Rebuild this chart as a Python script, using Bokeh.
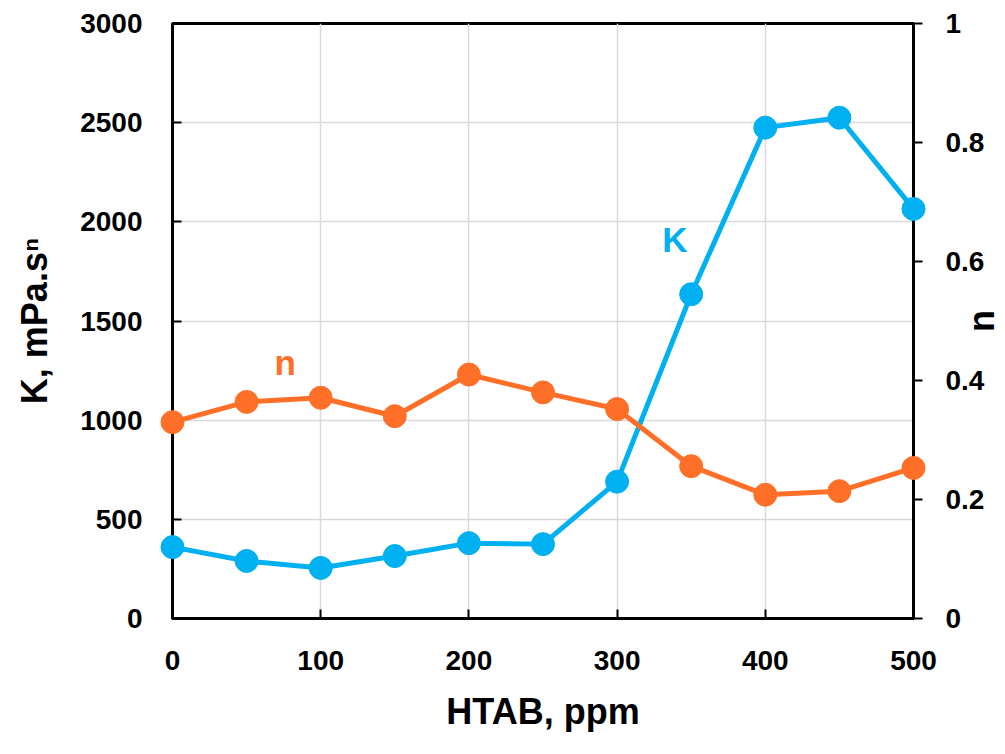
import math
from bokeh.plotting import figure
from bokeh.models import Range1d, LinearAxis, FixedTicker, Label, ColumnDataSource
from bokeh.core.properties import value
from bokeh.embed import file_html
from bokeh.resources import INLINE

htab = [0, 50, 100, 150, 200, 250, 300, 350, 400, 450, 500]
k_values = [360, 290, 255, 315, 380, 375, 690, 1635, 2475, 2525, 2065]
n_values = [0.330, 0.364, 0.371, 0.340, 0.410, 0.380, 0.352, 0.256, 0.208, 0.214, 0.253]
x_ticks = [0, 100, 200, 300, 400, 500]
k_ticks = [0, 500, 1000, 1500, 2000, 2500, 3000]
n_ticks = [0, 0.2, 0.4, 0.6, 0.8, 1]
n_tick_labels = ["0", "0.2", "0.4", "0.6", "0.8", "1"]

FONT = "Liberation Sans"
BLUE = "#00B0F0"
ORANGE = "#FF6F28"

p = figure(width=1005, height=750, output_backend="svg", toolbar_location=None,
           x_range=Range1d(0, 500), y_range=Range1d(0, 3000),
           min_border_left=172, min_border_right=92, min_border_top=23, min_border_bottom=132)
p.extra_y_ranges = {"n": Range1d(0, 1)}

p.outline_line_color = "black"
p.outline_line_width = 3
p.background_fill_color = "white"
p.border_fill_color = "white"

for g in (p.xgrid, p.ygrid):
    g.grid_line_color = "#d9d9d9"
    g.grid_line_width = 1.5
p.xgrid.ticker = FixedTicker(ticks=x_ticks)
p.ygrid.ticker = FixedTicker(ticks=k_ticks)

def style_axis(ax, tick_in, tick_out):
    ax.axis_line_width = 3
    ax.axis_line_color = "black"
    ax.major_tick_line_width = 2
    ax.major_tick_in = tick_in
    ax.major_tick_out = tick_out
    ax.minor_tick_line_color = None
    ax.major_label_text_font = FONT
    ax.major_label_text_font_style = "bold"
    ax.major_label_text_font_size = "28px"
    ax.major_label_text_color = "black"
    ax.axis_label_text_font = FONT
    ax.axis_label_text_font_style = "bold"
    ax.axis_label_text_font_size = "36px"
    ax.axis_label_text_color = "black"

xa = p.xaxis[0]
xa.ticker = FixedTicker(ticks=x_ticks)
xa.axis_label = "HTAB, ppm"
style_axis(xa, 9, 0)
xa.major_label_standoff = 32
xa.axis_label_standoff = 18

ya = p.yaxis[0]
ya.ticker = FixedTicker(ticks=k_ticks)
ya.axis_label = "K, mPa.s\u207f"
style_axis(ya, 9, 0)
ya.major_label_standoff = 30
ya.axis_label_standoff = 22

ra = LinearAxis(y_range_name="n")
ra.ticker = FixedTicker(ticks=n_ticks)
ra.major_label_overrides = {t: s for t, s in zip(n_ticks, n_tick_labels)}
style_axis(ra, 0, 9)
ra.major_label_standoff = 23
p.add_layout(ra, "right")

# right-axis title "n", drawn just outside the frame (overlay level is not clipped)
p.text(x=[545.9], y=[0.5], text=["n"], y_range_name="n", angle=math.pi / 2,
       text_color="black", text_font=value(FONT), text_font_style="bold",
       text_font_size="36px", text_align="center", text_baseline="middle", level="overlay")

src_k = ColumnDataSource(dict(x=htab, y=k_values))
src_n = ColumnDataSource(dict(x=htab, y=n_values))

p.line("x", "y", source=src_k, line_color=BLUE, line_width=5, level="overlay")
p.scatter("x", "y", source=src_k, size=23, fill_color=BLUE, line_color=BLUE, level="overlay")
p.line("x", "y", source=src_n, y_range_name="n", line_color=ORANGE, line_width=5, level="overlay")
p.scatter("x", "y", source=src_n, y_range_name="n", size=23, fill_color=ORANGE, line_color=ORANGE, level="overlay")

p.add_layout(Label(x=339, y=1909, text="K", text_color=BLUE, text_font=FONT, text_font_style="bold",
                   text_font_size="35px", text_align="center", text_baseline="middle"))
p.add_layout(Label(x=76, y=1293, text="n", text_color=ORANGE, text_font=FONT, text_font_style="bold",
                   text_font_size="35px", text_align="center", text_baseline="middle"))

open("out.html", "w").write(file_html(p, INLINE))
